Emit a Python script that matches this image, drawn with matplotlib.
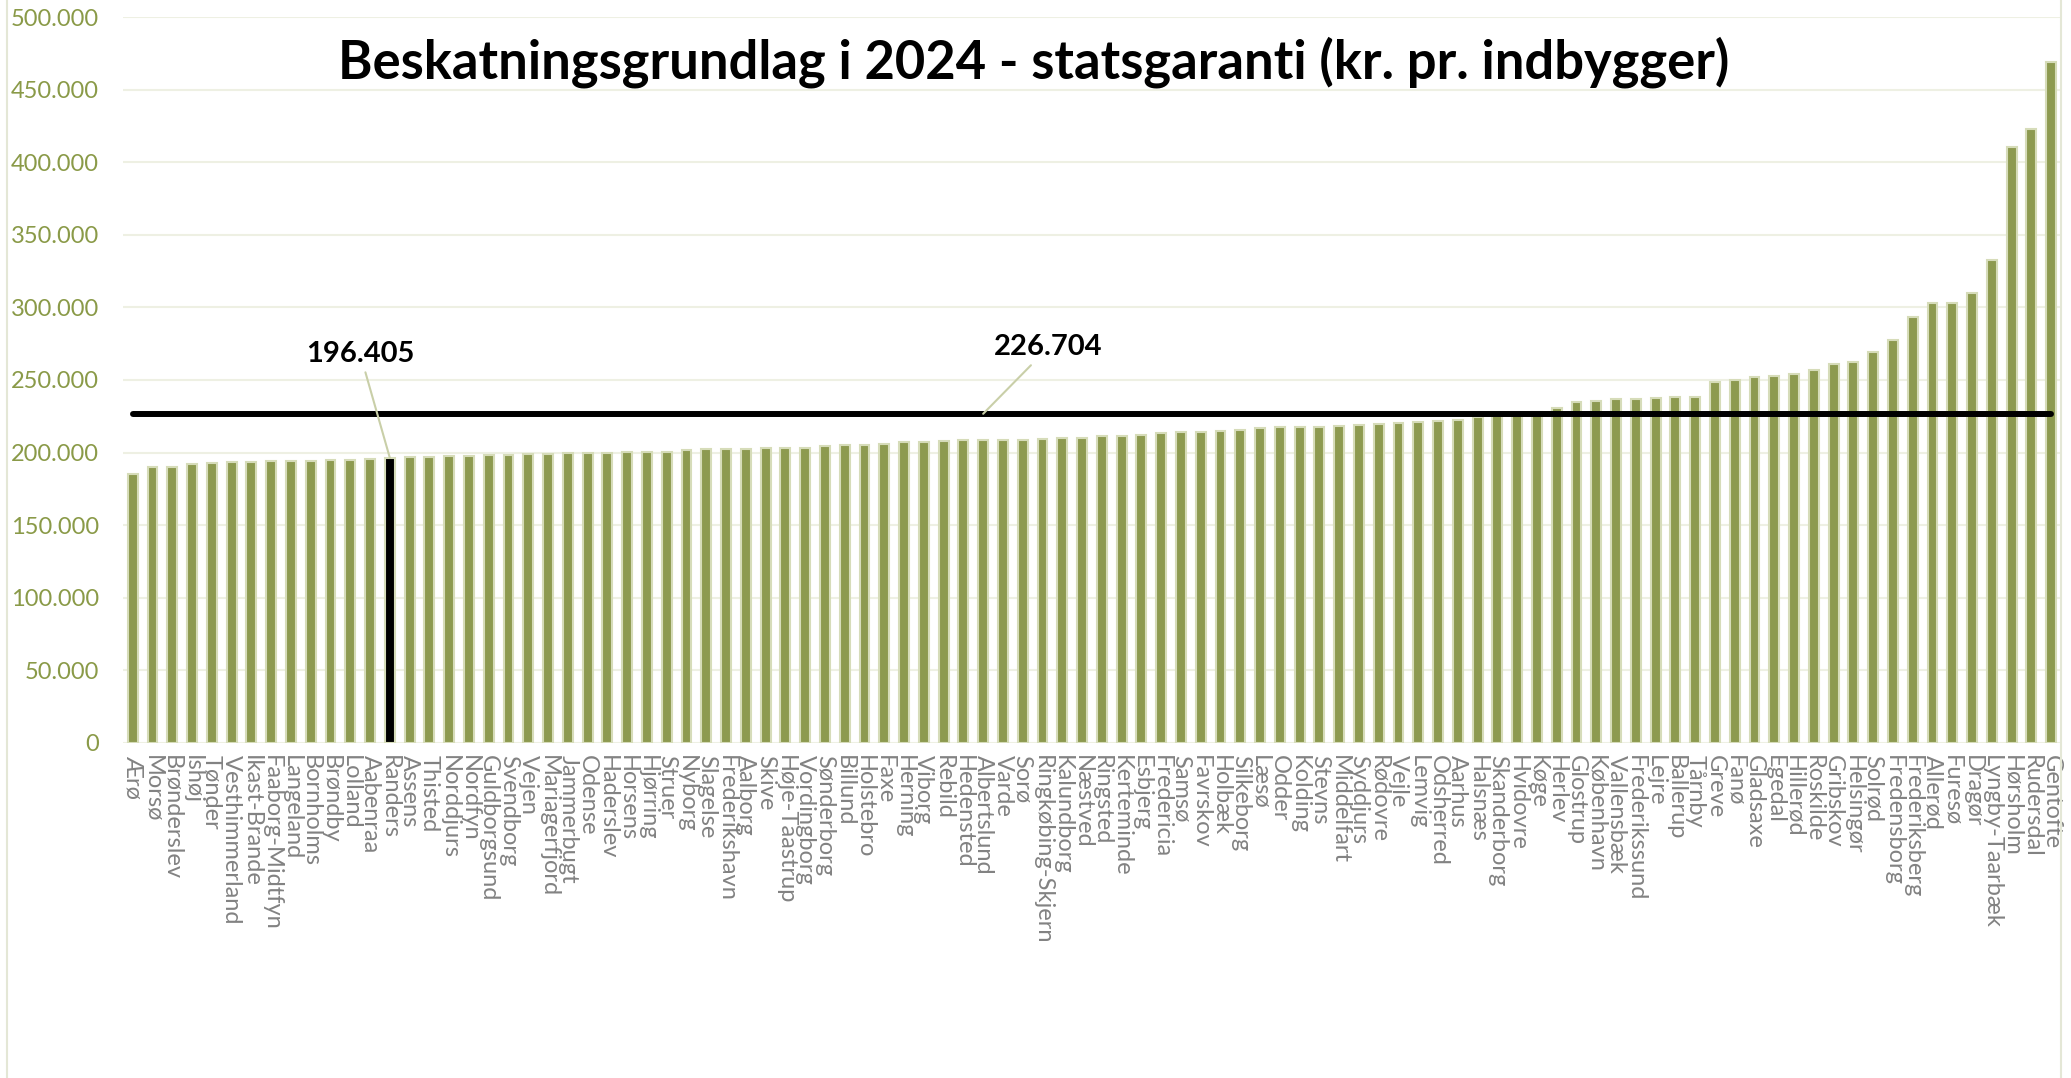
import matplotlib.pyplot as plt
from matplotlib.patches import Rectangle
from matplotlib.ticker import FuncFormatter

kommuner = ['Ærø', 'Morsø', 'Brønderslev', 'Ishøj', 'Tønder', 'Vesthimmerland',
            'Ikast-Brande', 'Faaborg-Midtfyn', 'Langeland', 'Bornholms', 'Brøndby',
            'Lolland', 'Aabenraa', 'Randers', 'Assens', 'Thisted', 'Norddjurs',
            'Nordfyn', 'Guldborgsund', 'Svendborg', 'Vejen', 'Mariagerfjord',
            'Jammerbugt', 'Odense', 'Haderslev', 'Horsens', 'Hjørring', 'Struer',
            'Nyborg', 'Slagelse', 'Frederikshavn', 'Aalborg', 'Skive', 'Høje-Taastrup',
            'Vordingborg', 'Sønderborg', 'Billund', 'Holstebro', 'Faxe', 'Herning',
            'Viborg', 'Rebild', 'Hedensted', 'Albertslund', 'Varde', 'Sorø',
            'Ringkøbing-Skjern', 'Kalundborg', 'Næstved', 'Ringsted', 'Kerteminde',
            'Esbjerg', 'Fredericia', 'Samsø', 'Favrskov', 'Holbæk', 'Silkeborg',
            'Læsø', 'Odder', 'Kolding', 'Stevns', 'Middelfart', 'Syddjurs', 'Rødovre',
            'Vejle', 'Lemvig', 'Odsherred', 'Aarhus', 'Halsnæs', 'Skanderborg',
            'Hvidovre', 'Køge', 'Herlev', 'Glostrup', 'København', 'Vallensbæk',
            'Frederikssund', 'Lejre', 'Ballerup', 'Tårnby', 'Greve', 'Fanø',
            'Gladsaxe', 'Egedal', 'Hillerød', 'Roskilde', 'Gribskov', 'Helsingør',
            'Solrød', 'Fredensborg', 'Frederiksberg', 'Allerød', 'Furesø', 'Dragør',
            'Lyngby-Taarbæk', 'Hørsholm', 'Rudersdal', 'Gentofte']

grundlag = [185500, 190000, 190200, 192100, 193000, 193300, 193800, 194200, 194300,
            194500, 194800, 195200, 195700, 196405, 196800, 197000, 197400, 197700,
            198300, 198500, 199100, 199200, 199400, 199500, 199900, 200100, 200200,
            200400, 202000, 202600, 202700, 202700, 202800, 202900, 203400, 204300,
            205000, 205300, 205700, 207000, 207500, 207900, 208400, 208600, 208700,
            208800, 209300, 210000, 210200, 211200, 211600, 212100, 213200, 214100,
            214200, 214600, 215300, 216700, 217400, 217800, 217900, 218000, 219200,
            219900, 220300, 220800, 222000, 222400, 224800, 225300, 226000, 228000,
            230400, 234600, 235700, 237100, 237200, 237500, 238200, 238500, 248800,
            249900, 252000, 252500, 253900, 257100, 261000, 262300, 269000, 277300,
            293300, 302800, 302900, 309900, 332400, 410900, 423100, 468900]

gennemsnit = 226704
fremhaevet = 'Randers'

oliven = '#8D9A50'
kant = '#D6DCB9'
fig = plt.figure(figsize=(20.71, 10.78), dpi=100)
ax = fig.add_axes([0.0593, 0.311, 0.9359, 0.673])

x = list(range(len(kommuner)))
farver = ['black' if k == fremhaevet else oliven for k in kommuner]
ax.bar(x, grundlag, width=0.5, color=farver, edgecolor=kant, linewidth=1.5, zorder=2)
ax.plot(x, [gennemsnit] * len(x), color='black', lw=4.3, solid_capstyle='round', zorder=3)

ax.set_xlim(-0.5, len(x) - 0.5)
ax.set_ylim(0, 500000)
ax.set_yticks(range(0, 500001, 50000))
ax.yaxis.set_major_formatter(FuncFormatter(lambda v, p: f'{int(v):,}'.replace(',', '.')))
ax.set_xticks(x)
ax.set_xticklabels(kommuner, rotation=270, ha='center', va='top')
ax.tick_params(axis='x', length=0, pad=9, labelsize=17, labelcolor='#828282')
ax.tick_params(axis='y', length=0, pad=17, labelsize=17, labelcolor='#8A9A48')
for lbl in ax.get_xticklabels() + ax.get_yticklabels():
    lbl.set_fontfamily('Lato')
ax.grid(axis='y', color='#EEF0E3', lw=1.5, zorder=0)
for s in ax.spines.values():
    s.set_visible(False)

i = kommuner.index(fremhaevet)
ax.annotate(f'{grundlag[i]:,}'.replace(',', '.'), xy=(i, grundlag[i]), xytext=(11.5, 268000),
            ha='center', va='center', fontsize=21, fontweight='bold', family='Lato',
            arrowprops=dict(arrowstyle='-', color='#C9CFA8', lw=1.5, shrinkA=2, shrinkB=0))
ax.annotate(f'{gennemsnit:,}'.replace(',', '.'), xy=(43, gennemsnit), xytext=(46.3, 272400),
            ha='center', va='center', fontsize=21, fontweight='bold', family='Lato',
            arrowprops=dict(arrowstyle='-', color='#C9CFA8', lw=1.5, shrinkA=2, shrinkB=0))

fig.text(0.499, 0.942, 'Beskatningsgrundlag i 2024 - statsgaranti (kr. pr. indbygger)',
         ha='center', va='center', fontsize=37.8, fontweight='bold', family='Lato')

fig.patches.append(Rectangle((0.0035, -0.01), 0.9915, 1.02, transform=fig.transFigure,
                             fill=False, edgecolor='#E4E7D6', lw=1.5))

fig.savefig('out.png', dpi=100)
